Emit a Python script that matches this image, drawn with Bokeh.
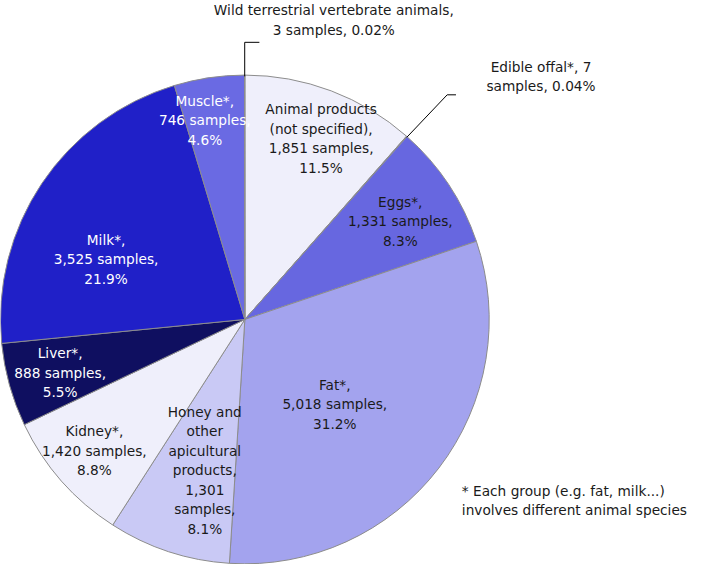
import math
from bokeh.plotting import figure
from bokeh.models import ColumnDataSource, Range1d
from bokeh.core.properties import value
from bokeh.embed import file_html
from bokeh.resources import INLINE

# ---- data ----
categories = ["Animal products (not specified)", "Edible offal*", "Eggs*", "Fat*",
              "Honey and other apicultural products", "Kidney*", "Liver*", "Milk*",
              "Muscle*", "Wild terrestrial vertebrate animals"]
samples = [1851, 7, 1331, 5018, 1301, 1420, 888, 3525, 746, 3]
percents = ["11.5%", "0.04%", "8.3%", "31.2%", "8.1%", "8.8%", "5.5%", "21.9%", "4.6%", "0.02%"]
label_lines = [
    ["Animal products", "(not specified),", "1,851 samples,", "11.5%"],
    ["Edible offal*, 7", "samples, 0.04%"],
    ["Eggs*,", "1,331 samples,", "8.3%"],
    ["Fat*,", "5,018 samples,", "31.2%"],
    ["Honey and", "other", "apicultural", "products,", "1,301", "samples,", "8.1%"],
    ["Kidney*,", "1,420 samples,", "8.8%"],
    ["Liver*,", "888 samples,", "5.5%"],
    ["Milk*,", "3,525 samples,", "21.9%"],
    ["Muscle*,", "746 samples,", "4.6%"],
    ["Wild terrestrial vertebrate animals,", "3 samples, 0.02%"],
]
footnote = ["* Each group (e.g. fat, milk...)", "involves different animal species"]

# ---- styles / layout ----
colors = ["#EFEFFB", "#8A8AE8", "#6767E0", "#A3A3EE", "#C9C9F5",
          "#EFEFFB", "#0F0F60", "#2020C8", "#6A6AE3", "#8A8AE8"]
text_colors = ["#1a1a1a", "#1a1a1a", "#1a1a1a", "#1a1a1a", "#1a1a1a",
               "#1a1a1a", "#ffffff", "#ffffff", "#ffffff", "#1a1a1a"]
# label centers in reference layout coords (x, y from top)
label_pos = [(328, 142), (553, 78), (409, 227), (342, 415), (209, 483),
             (96, 463), (61, 383), (108, 266), (209, 123), (341, 20)]
LINE_H = 20
FONT = "DejaVu Sans"
FSIZE = "13.7px"

W, H = 709, 580
def Y(y):
    return H - y

CX, CY, R = 250, Y(328), 250

p = figure(width=693, height=564, x_range=Range1d(0, W), y_range=Range1d(0, H),
           output_backend="svg", toolbar_location=None, min_border=0)
p.axis.visible = False
p.grid.visible = False
p.outline_line_color = None
p.background_fill_color = "white"
p.border_fill_color = "white"

total = float(sum(samples))
starts, ends, mids = [], [], []
cum = 0.0
for s in samples:
    a0 = math.pi / 2 - 2 * math.pi * cum / total
    cum += s
    a1 = math.pi / 2 - 2 * math.pi * cum / total
    starts.append(a0)
    ends.append(a1)
    mids.append((a0 + a1) / 2)

src = ColumnDataSource(dict(x=[CX] * len(samples), y=[CY] * len(samples),
                            start=starts, end=ends, color=colors, cat=categories))
p.wedge(x="x", y="y", radius=R, start_angle="start", end_angle="end",
        direction="clock", fill_color="color", line_color="#8c8c8c", line_width=1,
        source=src)

# leader lines for tiny slices
wi = categories.index("Wild terrestrial vertebrate animals")
ei = categories.index("Edible offal*")
wx, wy = CX + R * math.cos(mids[wi]), CY + R * math.sin(mids[wi])
p.line([wx, wx, wx + 15], [wy, Y(43), Y(43)], line_color="black", line_width=1)
ex, ey = CX + R * math.cos(mids[ei]), CY + R * math.sin(mids[ei])
p.line([ex, 457, 466], [ey, Y(97), Y(97)], line_color="black", line_width=1)

# labels
xs, ys, ts, cs = [], [], [], []
for lines, (lx, ly), tc in zip(label_lines, label_pos, text_colors):
    n = len(lines)
    for i, t in enumerate(lines):
        xs.append(lx)
        ys.append(Y(ly + (i - (n - 1) / 2) * LINE_H))
        ts.append(t)
        cs.append(tc)
p.text(x=xs, y=ys, text=ts, text_color=cs, text_align="center",
       text_baseline="middle", text_font=value(FONT), text_font_size=FSIZE)

# footnote
p.text(x=[472, 472], y=[Y(504), Y(524)], text=footnote, text_color="#1a1a1a",
       text_align="left", text_baseline="middle", text_font=value(FONT),
       text_font_size=FSIZE)

open("out.html", "w").write(file_html(p, INLINE))
